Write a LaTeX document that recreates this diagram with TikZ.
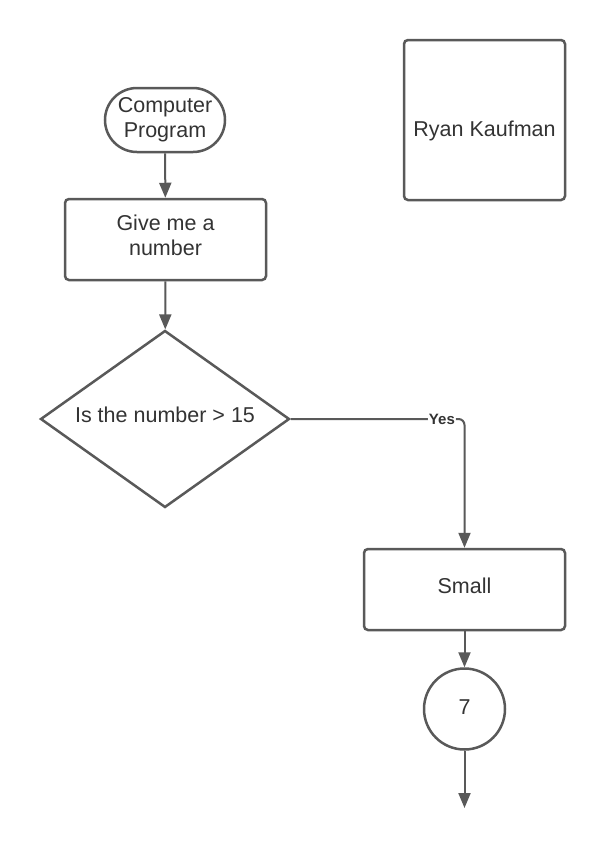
\documentclass[tikz,border=0pt]{standalone}
\usepackage{fontspec}
\setmainfont{Liberation Sans}
\usetikzlibrary{shapes.geometric,shapes.misc,arrows.meta}
\definecolor{linegray}{HTML}{595959}
\definecolor{textgray}{HTML}{333333}
\tikzset{every node/.style={text=textgray, font=\fontsize{21.5}{25}\selectfont, inner sep=0pt},
  boxnode/.style={draw=linegray, line width=2.5pt, rounded corners=4pt, minimum width=201pt, minimum height=81pt, align=center},
  termnode/.style={draw=linegray, line width=2.5pt, rounded rectangle, minimum width=120pt, minimum height=64pt, align=center},
  asknode/.style={draw=linegray, line width=2.5pt, diamond, aspect=1.407, minimum width=249pt, minimum height=177pt},
  connnode/.style={draw=linegray, line width=2.5pt, circle, minimum size=81pt},
  conn/.style={draw=linegray, line width=2pt, -{Triangle[length=15pt,width=12pt]}},
  yeslab/.style={fill=white, inner sep=1pt, font=\fontsize{15}{17}\selectfont\bfseries}}

\begin{document}
\begin{tikzpicture}[x=1pt,y=-1pt]
  \useasboundingbox[fill=white] (0,0) rectangle (605,847);
  % left column
  \node[termnode] (prog) at (165,120) {Computer\\Program};
  \node[boxnode]  (give) at (165.5,239.5) {Give me a\\number\rule[-9pt]{0pt}{9pt}};
  \node[asknode, text depth=9.1pt] (ask) at (165,419) {Is the number > 15};
  % right column
  \node[boxnode, minimum width=161pt, minimum height=160pt, text height=37pt] (name) at (484.5,120) {Ryan Kaufman};
  \node[boxnode, text depth=7.3pt] (small) at (464.5,589.5) {Small};
  \node[connnode, text depth=3pt] (seven) at (464.5,709) {7};
  \coordinate (out) at (464.5,808);

  \draw[conn] (prog) -- (give);
  \draw[conn] (give) -- (ask);
  \draw[conn, rounded corners=6pt] (ask.east) -- node[pos=.87, yeslab] {Yes} (ask.east -| small.north) -- (small.north);
  \draw[conn] (small) -- (seven);
  \draw[conn] (seven) -- (out);
\end{tikzpicture}
\end{document}
